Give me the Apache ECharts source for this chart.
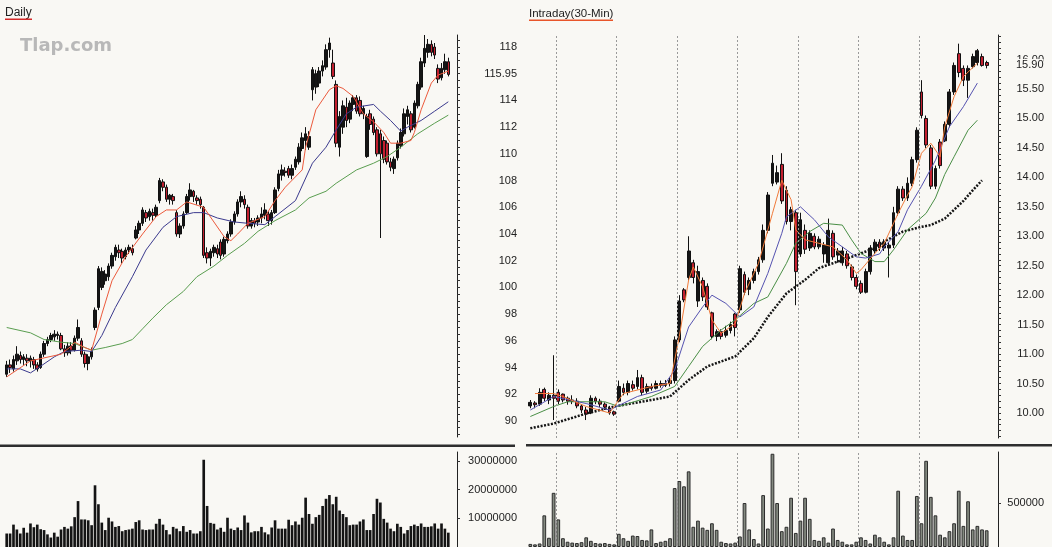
<!DOCTYPE html>
<html><head><meta charset="utf-8">
<script src="https://cdn.jsdelivr.net/npm/echarts@6/dist/echarts.min.js"></script>
<style>html,body{margin:0;padding:0;background:#f9f8f4}#c{width:1052px;height:547px}</style>
</head><body><div id="c"></div>
<script>
// ---------- DAILY ----------  [open, close, low, high]
const dailyOHLC = [
[93.5,94.2,93.3,94.5],[94.2,94.0,93.6,94.6],[93.9,94.6,93.7,94.9],[94.5,95.0,94.2,95.6],[94.9,94.6,94.3,95.2],
[94.6,94.8,94.2,95.0],[94.7,94.5,94.1,95.0],[94.5,94.7,94.0,94.9],[94.6,94.2,93.9,94.8],[94.2,93.9,93.7,94.4],
[94.0,95.0,93.9,95.2],[95.0,95.8,94.8,96.0],[95.8,96.1,95.6,96.3],[96.1,96.4,95.9,96.6],[96.3,96.5,96.0,96.8],
[96.4,96.5,96.1,96.7],[96.4,95.4,95.3,96.6],[95.4,95.1,94.8,95.7],[95.1,95.6,94.9,95.9],[95.6,95.3,95.0,95.9],
[95.3,96.2,95.2,96.4],[96.2,97.0,96.0,97.6],[96.0,95.0,94.8,96.2],[95.0,94.3,94.0,95.2],[94.3,94.8,93.8,95.0],
[94.8,95.2,94.6,95.5],[97.0,98.3,96.8,98.5],[98.5,101.4,98.3,101.6],[100.0,101.2,99.8,101.5],[100.5,101.0,100.2,101.3],
[100.8,101.6,100.5,101.8],[101.6,102.4,101.4,102.6],[102.3,103.0,102.0,103.2],[102.8,102.6,102.2,103.2],[102.7,102.2,101.8,102.9],
[102.3,102.8,102.1,103.0],[102.8,103.0,102.5,103.2],[102.9,102.6,102.4,103.2],[103.7,104.3,103.6,104.6],[104.3,104.8,104.0,105.0],
[104.8,105.8,104.6,106.0],[105.6,105.2,104.9,105.8],[105.3,105.7,105.0,105.9],[105.6,105.4,105.0,105.9],[105.4,106.0,105.2,106.2],
[106.5,108.0,106.3,108.2],[107.9,107.5,107.2,108.1],[107.5,106.6,106.4,107.7],[106.6,106.9,106.2,107.0],[106.8,106.5,106.2,107.0],
[105.6,104.0,103.8,105.8],[104.0,104.6,103.7,104.8],[104.6,105.5,104.4,105.7],[105.6,106.8,105.5,107.0],[106.8,107.3,106.5,107.8],
[107.2,106.8,106.4,107.3],[106.7,106.5,106.2,106.9],[106.6,106.2,105.9,106.8],[106.0,102.4,102.2,106.1],[102.6,102.2,101.8,103.0],
[102.2,102.7,101.6,102.9],[102.6,103.0,102.3,103.2],[102.9,102.5,102.2,103.2],[103.4,102.4,102.1,103.6],[102.5,103.6,102.3,103.8],
[103.5,104.0,103.3,104.2],[104.0,104.9,103.8,105.1],[104.9,105.5,104.7,105.7],[105.5,106.4,105.3,106.6],[106.4,106.8,106.0,107.2],
[106.6,106.2,105.9,106.9],[106.0,104.6,104.4,106.2],[104.6,105.0,104.4,105.2],[105.0,104.8,104.5,105.2],[104.9,105.2,104.6,105.4],
[105.2,105.5,104.8,106.0],[105.4,105.8,105.1,106.3],[105.5,105.0,104.6,105.7],[105.0,105.6,104.7,105.8],[105.6,107.3,105.5,107.5],
[107.4,108.5,107.2,108.8],[108.4,108.8,108.0,109.2],[108.7,108.6,108.3,109.0],[108.9,108.4,108.2,109.1],[108.4,108.9,108.1,109.2],
[109.0,109.6,108.8,109.8],[109.4,110.5,109.2,110.8],[110.4,111.2,110.2,111.6],[111.0,111.5,110.3,112.0],[110.5,111.3,110.3,111.7],
[114.8,116.3,114.0,116.5],[115.0,116.0,114.5,116.3],[115.3,116.2,115.0,116.5],[116.2,116.6,115.8,117.0],[116.5,117.8,116.3,118.2],
[117.8,118.3,117.2,118.7],[116.8,115.8,115.6,117.8],[115.2,110.8,110.5,115.5],[110.5,112.8,109.8,113.2],[112.0,113.6,111.5,114.0],
[113.5,112.5,112.0,114.2],[112.6,113.8,112.3,114.0],[113.7,114.2,113.2,114.4],[114.2,113.2,113.0,114.4],[114.0,113.0,112.8,114.3],
[113.0,113.4,112.6,113.6],[109.8,112.8,109.7,113.0],[113.0,112.2,111.8,113.3],[112.6,111.6,111.4,112.8],[111.8,110.0,109.8,112.0],
[111.5,110.0,103.7,111.8],[111.0,109.6,109.3,111.3],[110.8,109.4,109.2,111.0],[109.4,109.0,108.7,109.7],[108.9,109.6,108.5,109.8],
[109.7,110.8,109.5,111.0],[110.6,111.6,110.4,111.9],[111.5,113.0,111.3,113.4],[112.8,113.3,112.2,113.6],[113.0,111.8,111.6,113.2],
[112.0,113.8,111.9,114.0],[113.6,115.2,113.4,115.4],[115.0,116.9,114.8,117.2],[116.8,117.9,116.5,118.9],[117.6,118.2,117.2,118.6],
[118.2,117.6,117.3,118.5],[118.0,117.4,117.1,118.3],[116.4,115.6,115.3,116.7],[115.7,116.4,115.5,116.8],[116.3,116.9,116.0,117.5],
[116.9,115.95,115.8,117.2]
];
// volume in millions of shares
const dailyVolume = [
4.7,4.7,7.8,6.1,4.7,6.7,5.0,8.2,6.9,7.8,
6.2,5.9,4.4,3.3,5.0,3.6,6.1,7.0,6.4,7.2,
10.4,16.0,9.6,9.6,9.3,7.6,21.5,14.9,8.5,5.9,
10.2,8.9,7.0,7.3,5.5,5.9,6.1,6.4,8.7,9.3,
6.1,5.9,6.1,6.1,8.1,9.8,7.8,5.9,4.4,7.0,
6.4,5.5,7.3,5.3,5.9,4.7,4.7,5.5,30.4,14.3,
8.4,8.1,6.1,6.7,5.3,10.2,6.4,5.9,6.8,5.9,
11.0,8.5,5.1,5.5,5.5,7.0,5.1,4.4,6.8,9.3,
6.4,6.4,6.4,9.5,7.6,8.9,7.8,10.2,17.2,11.5,
8.1,10.4,11.2,14.3,16.8,18.1,14.9,17.5,12.7,11.5,
10.4,7.6,7.8,7.8,8.9,9.6,5.9,5.9,11.5,16.8,
15.5,9.8,8.5,6.4,5.5,8.1,7.0,4.7,5.9,7.3,
7.8,7.3,8.2,7.0,7.0,7.2,8.2,6.4,8.2,6.4,
5.0
];
// moving averages: [barIndex, value]
const dailyMAshort = [[0,93.3],[7,94.5],[16,95.0],[19,95.6],[20,95.9],[23,95.5],[25,95.3],[28,98.0],[31,100.5],[35,102.3],[40,104.0],[44,105.3],[47,105.8],[50,105.8],[53,106.4],[58,106.0],[61,104.9],[64,103.8],[66,103.5],[68,104.0],[71,104.8],[76,105.3],[79,106.5],[82,107.5],[87,108.8],[88,110.5],[91,113.3],[95,114.8],[97,115.1],[99,114.9],[102,114.3],[105,113.0],[108,112.4],[111,111.6],[113,110.8],[116,110.8],[119,111.0],[120,111.6],[122,113.3],[125,115.3],[127,115.9],[130,116.2]];
const dailyMAmid = [[0,93.9],[4,93.9],[7,93.6],[10,94.1],[14,94.8],[17,95.2],[22,95.3],[25,95.2],[28,96.4],[32,98.5],[37,100.8],[41,102.8],[46,104.5],[50,105.3],[55,105.6],[58,105.6],[62,105.2],[67,104.9],[71,104.8],[76,104.7],[79,105.3],[85,106.5],[90,109.3],[94,110.5],[97,111.8],[100,113.0],[103,113.5],[108,113.7],[110,113.2],[113,112.5],[116,111.7],[118,112.0],[122,112.5],[126,113.2],[130,113.9]];
const dailyMAlong = [[0,97.0],[7,96.6],[11,96.1],[16,95.9],[20,95.8],[25,95.3],[29,95.5],[34,95.8],[37,96.1],[40,96.9],[43,97.7],[47,98.7],[52,99.7],[56,100.8],[61,101.6],[65,102.4],[70,103.3],[74,104.2],[79,105.0],[85,105.8],[89,106.7],[94,107.2],[97,107.8],[103,108.8],[108,109.3],[112,109.8],[116,110.5],[121,111.5],[126,112.3],[130,112.9]];
const dailyPriceLabels = [90,92,94,96,98,100,102,104,106,108,110,112,114,118,115.95];
const dailyVolumeLabels = [10,20,30];

// ---------- INTRADAY (30-min) ---------- [open, close, low, high]
const intraOHLC = [
[10.12,10.18,10.08,10.22],[10.17,10.14,10.08,10.2],[10.15,10.35,10.12,10.42],[10.4,10.25,10.2,10.43],[10.22,10.3,10.15,10.35],
[10.3,10.25,9.88,10.98],[10.35,10.2,10.15,10.4],[10.32,10.22,10.18,10.33],[10.25,10.2,10.14,10.28],[10.2,10.22,10.15,10.3],
[10.2,10.12,10.08,10.25],[10.12,10.05,10.0,10.15],[10.05,9.98,9.88,10.1],[10.0,10.25,9.98,10.3],[10.25,10.2,10.15,10.28],
[10.2,10.15,10.1,10.24],[10.15,10.1,10.05,10.18],[10.08,10.0,9.97,10.12],[10.02,9.98,9.95,10.04],[10.2,10.45,10.18,10.55],
[10.42,10.35,10.3,10.5],[10.35,10.5,10.3,10.55],[10.48,10.42,10.38,10.55],[10.45,10.6,10.4,10.73],[10.6,10.35,10.3,10.65],
[10.37,10.45,10.33,10.5],[10.45,10.42,10.38,10.5],[10.42,10.5,10.4,10.55],[10.5,10.47,10.43,10.55],[10.47,10.5,10.44,10.56],
[10.5,10.55,10.45,10.6],[10.55,11.24,10.5,11.3],[11.24,11.9,11.2,12.0],[12.09,11.92,11.88,12.12],[12.3,12.75,12.25,13.0],
[12.55,12.3,12.2,12.6],[11.9,12.4,11.8,12.5],[12.25,11.97,11.9,12.3],[12.15,11.8,11.75,12.2],[11.7,11.3,11.25,11.72],
[11.3,11.38,11.22,11.42],[11.38,11.3,11.25,11.42],[11.32,11.4,11.28,11.48],[11.4,11.5,11.35,11.55],[11.68,11.45,11.3,11.7],
[11.75,12.45,11.7,12.5],[12.35,12.05,12.0,12.4],[12.1,12.25,12.0,12.3],[12.25,12.4,12.2,12.45],[12.4,12.6,12.35,12.65],
[12.6,13.1,12.55,13.2],[13.1,13.7,13.05,13.75],[13.9,14.24,13.85,14.38],[13.92,14.08,13.88,14.2],[14.22,13.6,13.55,14.41],
[13.78,13.25,13.2,13.85],[13.25,13.45,13.1,13.5],[13.4,12.4,11.83,13.45],[12.7,13.28,12.65,13.4],[13.1,12.78,12.7,13.2],
[12.8,13.05,12.75,13.1],[13.0,12.82,12.78,13.05],[12.82,12.95,12.78,13.0],[12.7,12.85,12.55,12.9],[12.55,13.1,12.5,13.3],
[13.05,12.65,12.6,13.1],[12.68,12.75,12.55,12.8],[12.55,12.75,12.5,12.82],[12.7,12.5,12.45,12.75],[12.48,12.3,12.25,12.52],
[12.3,12.15,12.1,12.35],[12.2,12.05,12.02,12.25],[12.05,12.4,12.03,12.45],[12.4,12.8,12.35,12.85],[12.75,12.9,12.7,12.95],
[12.9,12.8,12.75,12.95],[12.8,12.9,12.75,12.95],[12.8,12.85,12.3,12.9],[12.85,13.4,12.8,13.5],[13.4,13.8,13.35,13.85],
[13.8,13.65,13.6,13.85],[13.65,13.9,13.6,14.0],[13.9,14.3,13.85,14.35],[14.3,14.8,14.25,14.85],[15.45,15.05,15.0,15.65],
[15.0,14.55,14.5,15.05],[14.5,13.85,13.8,14.55],[13.85,14.15,13.8,14.2],[14.6,14.2,14.15,14.65],[14.62,14.9,14.6,14.95],
[14.9,15.45,14.85,15.5],[15.45,15.9,15.4,15.95],[16.1,15.78,15.7,16.27],[15.85,15.65,15.55,15.9],[15.65,15.85,15.35,15.9],
[15.88,16.05,15.85,16.1],[15.95,16.15,15.9,16.18],[16.05,15.9,15.88,16.1],[15.95,15.9,15.85,15.98]
];
// volume in thousands of shares
const intraVolume = [
35,30,40,360,105,616,314,100,60,50,
45,55,110,70,45,40,45,35,30,150,
100,70,130,125,80,75,200,45,60,70,
100,670,750,690,860,230,300,220,195,270,
195,60,45,40,50,120,500,200,90,40,
590,210,1060,500,180,230,560,160,300,560,
320,80,70,110,50,210,80,60,30,30,
60,110,80,40,140,110,60,30,110,640,
130,80,80,580,270,980,570,360,140,110,
180,270,640,240,520,200,240,200,190
];
const intraMAorange = [[1,10.33],[5,10.33],[7,10.28],[12,10.11],[17,10.0],[20,10.33],[26,10.45],[30,10.5],[32,11.3],[34,12.26],[35,12.48],[37,12.14],[39,11.58],[41,11.35],[44,11.52],[46,12.03],[49,12.54],[52,13.39],[54,13.95],[56,13.62],[57,13.11],[59,12.94],[62,12.88],[65,12.82],[68,12.6],[70,12.37],[71,12.43],[74,12.71],[76,12.88],[79,13.39],[81,13.7],[82,13.84],[84,14.41],[86,14.58],[88,14.35],[89,14.86],[91,15.37],[93,15.71],[96,15.94]];
const intraMAblue = [[0,10.05],[5,10.28],[12,10.16],[17,10.05],[23,10.28],[28,10.39],[31,10.73],[34,11.46],[37,11.8],[39,12.0],[42,11.86],[45,11.63],[48,11.8],[51,12.37],[54,13.05],[55,13.33],[58,13.5],[61,13.28],[64,12.99],[67,12.82],[70,12.65],[72,12.63],[75,12.7],[76,12.82],[79,13.08],[81,13.45],[84,13.85],[87,14.29],[90,14.86],[93,15.2],[96,15.6]];
const intraMAgreen = [[0,9.94],[5,10.11],[8,10.19],[16,10.19],[19,10.11],[26,10.28],[31,10.45],[34,10.79],[37,11.13],[41,11.41],[44,11.58],[48,11.86],[51,11.97],[55,12.54],[57,12.88],[60,13.08],[63,13.22],[67,13.19],[69,12.94],[71,12.71],[74,12.57],[76,12.57],[78,12.77],[81,13.11],[85,13.39],[87,13.65],[89,14.05],[91,14.35],[94,14.8],[96,14.97]];
const intraMAlong = [[0,9.74],[5,9.82],[12,9.99],[18,10.11],[26,10.22],[30,10.28],[34,10.56],[38,10.79],[44,10.96],[48,11.27],[51,11.63],[55,12.03],[59,12.26],[62,12.46],[66,12.57],[69,12.65],[73,12.77],[76,12.91],[80,13.08],[84,13.16],[86,13.19],[89,13.3],[93,13.6],[95,13.78],[97,13.95]];
const intraPriceLabels = [10,10.5,11,11.5,12,12.5,13,13.5,14,14.5,15,15.5,16];
const intraLastPrice = 15.90;
const intraVolumeLabels = [500];
const intraDayStarts = [6,19,32,45,58,71,84];

// ---------- build ----------
const dailyCats = dailyOHLC.map((d, i) => 'D' + (i + 1));
const intraCats = intraOHLC.map((d, i) => 'B' + (i + 1));
const dailyMinor = []; for (let v = 89; v <= 118.8; v += 0.5) dailyMinor.push(+v.toFixed(2));
const intraMinor = []; for (let v = 9.6; v <= 16.4; v += 0.1) intraMinor.push(+v.toFixed(2));
const FONT = 'Liberation Sans';
const BG = '#f9f8f4';

function priceAxis(grid, min, max, offset, margin, labels, minor, fmt) {
  return {
    type: 'value', gridIndex: grid, position: 'right', offset: offset, min: min, max: max,
    axisLine: {show: true, onZero: false, lineStyle: {color: '#222', width: 1}},
    axisTick: {show: true, length: 3, customValues: minor, lineStyle: {color: '#333', width: 1}},
    axisLabel: {customValues: labels, align: 'right', margin: margin, fontSize: 11, color: '#222', fontFamily: FONT, formatter: fmt},
    splitLine: {show: false}
  };
}
function volAxis(grid, max, offset, margin, labels, fmt) {
  return {
    type: 'value', gridIndex: grid, position: 'right', offset: offset, min: 0, max: max,
    axisLine: {show: true, onZero: false, lineStyle: {color: '#222', width: 1}},
    axisTick: {show: true, length: 3, lineStyle: {color: '#333'}, customValues: labels},
    axisLabel: {customValues: labels, align: 'right', margin: margin, fontSize: 11, color: '#222', fontFamily: FONT, formatter: fmt},
    splitLine: {show: false}
  };
}
function catAxis(grid, cats) {
  return {
    type: 'category', gridIndex: grid, data: cats, boundaryGap: true,
    axisLine: {show: false, onZero: false}, axisTick: {show: false}, axisLabel: {show: false}, splitLine: {show: false}
  };
}
function sepAxis(grid) {
  return {type: 'value', gridIndex: grid, min: -0.5, max: intraOHLC.length - 0.5, show: false,
    axisLine: {show: false, onZero: false}, axisTick: {show: false}, axisLabel: {show: false}, splitLine: {show: false}};
}
function sepSeries(xIdx, yIdx) {
  return {type: 'line', xAxisIndex: xIdx, yAxisIndex: yIdx, data: [], silent: true, z: 1,
    markLine: {silent: true, symbol: ['none', 'none'], animation: false,
      label: {show: false}, lineStyle: {color: '#9a9a9a', type: [2, 2], width: 1},
      data: intraDayStarts.map(d => ({xAxis: d - 0.5}))}};
}
const candleStyle = {color: '#151515', color0: '#c21f2f', borderColor: '#111', borderColor0: '#111', borderWidth: 1};

const option = {
  backgroundColor: BG,
  animation: false,
  grid: [
    {left: 5, top: 35, width: 445, height: 402},
    {left: 5, top: 452, width: 445, height: 95},
    {left: 528, top: 35, width: 461, height: 403},
    {left: 528, top: 452, width: 461, height: 95}
  ],
  xAxis: [catAxis(0, dailyCats), catAxis(1, dailyCats), catAxis(2, intraCats), catAxis(3, intraCats), sepAxis(2), sepAxis(3)],
  yAxis: [
    priceAxis(0, 88.8, 118.9, 7, 60, dailyPriceLabels, dailyMinor, v => Number.isInteger(v) ? String(v) : v.toFixed(2)),
    volAxis(1, 33.1, 7, 60, dailyVolumeLabels, v => String(Math.round(v * 1000000))),
    priceAxis(2, 9.575, 16.417, 9, 46, intraPriceLabels, intraMinor, v => v.toFixed(2)),
    volAxis(3, 1080, 9, 46, intraVolumeLabels, v => String(Math.round(v * 1000)))
  ],
  series: [
    {type: 'candlestick', xAxisIndex: 0, yAxisIndex: 0, data: dailyOHLC, barWidth: '90%', itemStyle: candleStyle, z: 3},
    {type: 'line', xAxisIndex: 0, yAxisIndex: 0, data: dailyMAlong, symbol: 'none', lineStyle: {color: '#5a9e50', width: 1}, z: 4},
    {type: 'line', xAxisIndex: 0, yAxisIndex: 0, data: dailyMAmid, symbol: 'none', lineStyle: {color: '#3b3a8e', width: 1}, z: 4},
    {type: 'line', xAxisIndex: 0, yAxisIndex: 0, data: dailyMAshort, symbol: 'none', lineStyle: {color: '#ec5a3c', width: 1}, z: 4},
    {type: 'bar', xAxisIndex: 1, yAxisIndex: 1, data: dailyVolume, barWidth: '78%', itemStyle: {color: '#141414'}},
    sepSeries(4, 2),
    sepSeries(5, 3),
    {type: 'candlestick', xAxisIndex: 2, yAxisIndex: 2, data: intraOHLC, barWidth: '72%', itemStyle: candleStyle, z: 3,
      markLine: {silent: true, symbol: ['none', 'none'], animation: false,
        lineStyle: {width: 0, color: 'rgba(0,0,0,0)'},
        label: {show: true, position: 'end', distance: 27, formatter: '15.90', fontSize: 11, color: '#222',
          fontFamily: FONT, backgroundColor: BG, padding: [1, 0, 1, 0]},
        data: [{yAxis: intraLastPrice}]}},
    {type: 'line', xAxisIndex: 2, yAxisIndex: 2, data: intraMAlong, symbol: 'none', lineStyle: {color: '#151515', width: 2.5, type: [2, 1.5]}, z: 4},
    {type: 'line', xAxisIndex: 2, yAxisIndex: 2, data: intraMAgreen, symbol: 'none', lineStyle: {color: '#4a8f46', width: 1}, z: 4},
    {type: 'line', xAxisIndex: 2, yAxisIndex: 2, data: intraMAblue, symbol: 'none', lineStyle: {color: '#5552b0', width: 1}, z: 4},
    {type: 'line', xAxisIndex: 2, yAxisIndex: 2, data: intraMAorange, symbol: 'none', lineStyle: {color: '#f07a3a', width: 1}, z: 4},
    {type: 'bar', xAxisIndex: 3, yAxisIndex: 3, data: intraVolume, barWidth: '80%', itemStyle: {color: '#848a80', borderColor: '#2c2c2c', borderWidth: 1}}
  ],
  graphic: [
    {type: 'text', left: 5, top: 7, style: {text: 'Daily', fontSize: 12, fontFamily: FONT, fill: '#222'}},
    {type: 'rect', shape: {x: 5, y: 18.5, width: 27, height: 1.5}, style: {fill: '#d42a2a'}},
    {type: 'text', left: 529, top: 8, style: {text: 'Intraday(30-Min)', fontSize: 11.5, fontFamily: FONT, fill: '#222'}},
    {type: 'rect', shape: {x: 529, y: 19.5, width: 84, height: 1.5}, style: {fill: '#e8552a'}},
    {type: 'text', left: 20, top: 37, style: {text: 'Tlap.com', fontSize: 18, fontWeight: 'bold', fontFamily: 'DejaVu Sans', fill: '#b8b8b8'}},
    {type: 'rect', shape: {x: 0, y: 444.5, width: 515, height: 2.5}, style: {fill: '#2e2e2e'}},
    {type: 'rect', shape: {x: 526, y: 444, width: 526, height: 2.5}, style: {fill: '#2e2e2e'}}
  ]
};
const chart = echarts.init(document.getElementById('c'), null, {renderer: 'canvas'});
chart.setOption(option);
</script>
</body></html>
